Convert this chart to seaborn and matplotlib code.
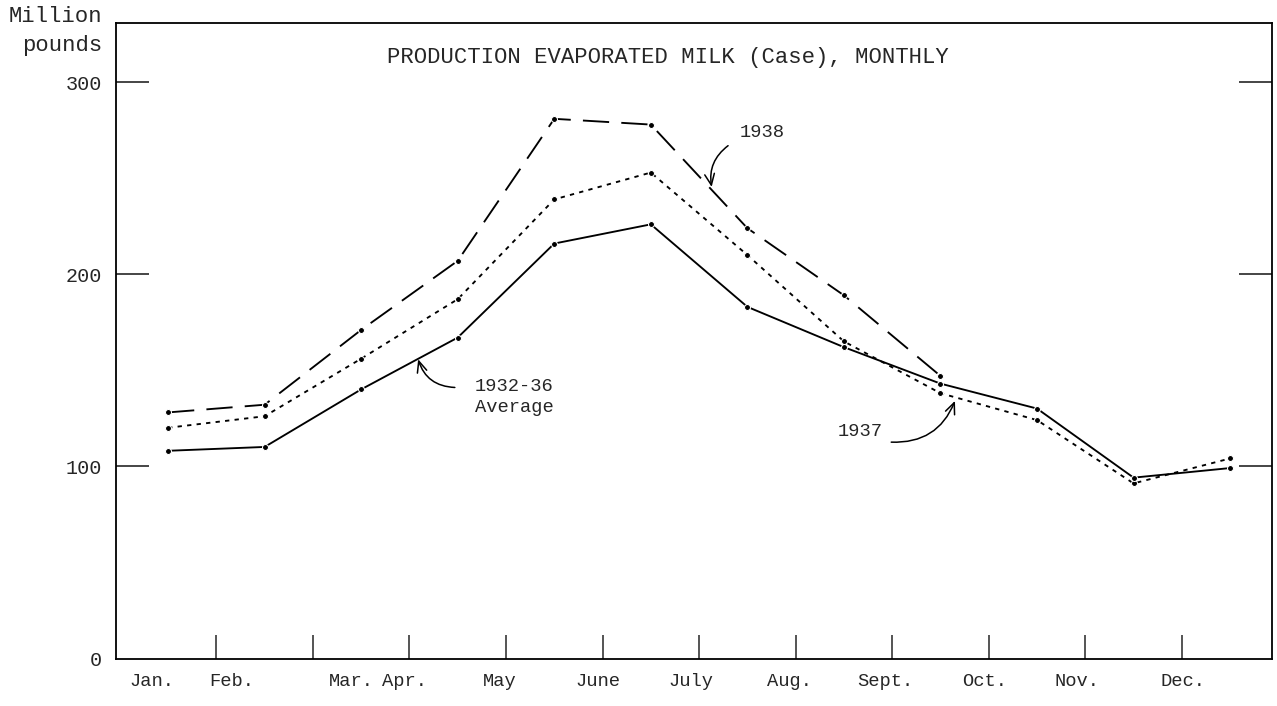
import pandas as pd
import seaborn as sns
import matplotlib.pyplot as plt

# ── data (million pounds) ─────────────────────────────────
months = ["Jan.", "Feb.", "Mar.", "Apr.", "May", "June",
          "July", "Aug.", "Sept.", "Oct.", "Nov.", "Dec."]
prod_1938 = [128, 132, 171, 207, 281, 278, 224, 189, 147]
prod_1937 = [120, 126, 156, 187, 239, 253, 210, 165, 138, 124, 91, 104]
avg_1932_36 = [108, 110, 140, 167, 216, 226, 183, 162, 143, 130, 94, 99]
y_ticks = [0, 100, 200, 300]

# typed month labels sit a little off the month centres
label_x = [-0.17, 0.66, 1.9, 2.45, 3.44, 4.45, 5.42, 6.44, 7.43, 8.46, 9.41, 10.51]

sns.set_style("ticks")
plt.rcParams["font.family"] = ["Liberation Mono", "DejaVu Sans Mono"]

fig = plt.figure(figsize=(12.77, 7.06), dpi=100)
ax = fig.add_axes([0.0908, 0.0666, 0.905, 0.901])

df_38 = pd.DataFrame({"m": range(len(prod_1938)), "v": prod_1938})
df_37 = pd.DataFrame({"m": range(len(prod_1937)), "v": prod_1937})
df_av = pd.DataFrame({"m": range(len(avg_1932_36)), "v": avg_1932_36})

common = dict(color="black", marker="o", markersize=4.3, lw=1.35, ax=ax)
sns.lineplot(data=df_38, x="m", y="v", linestyle=(0, (14, 6.5)), **common)
sns.lineplot(data=df_37, x="m", y="v", linestyle=(0, (2.3, 2.8)), **common)
sns.lineplot(data=df_av, x="m", y="v", linestyle="-", **common)

ax.set_xlim(-0.54, 11.43)
ax.set_ylim(-0.5, 331)
ax.set_xlabel("")
ax.set_ylabel("")

# y ticks on both sides, pointing in
ax.set_yticks(y_ticks)
ax.set_yticklabels([str(t) for t in y_ticks], fontsize=14.5)
ax.tick_params(axis="y", direction="in", length=24, width=1.2,
               right=True, pad=10)
zero_tick = ax.yaxis.get_major_ticks()[0]
zero_tick.tick1line.set_visible(False)
zero_tick.tick2line.set_visible(False)

# month boundaries as inward ticks, labels typed below
ax.set_xticks([i + 0.5 for i in range(11)])
ax.set_xticklabels([""] * 11)
ax.tick_params(axis="x", direction="in", length=17, width=1.1)
for x, lab in zip(label_x, months):
    ax.text(x, -8, lab, ha="center", va="top", fontsize=13.5,
            transform=ax.transData, clip_on=False)

for s in ax.spines.values():
    s.set_visible(True)
    s.set_linewidth(1.3)
    s.set_color("black")

ax.text(0.478, 0.946, "PRODUCTION EVAPORATED MILK (Case), MONTHLY",
        transform=ax.transAxes, ha="center", va="center", fontsize=16)
fig.text(102 / 1277, 1 - 31 / 706, "Million\npounds", ha="right",
         va="center", fontsize=16, linespacing=1.5)

arrow = dict(arrowstyle="->,head_length=0.8,head_width=0.35",
             color="black", lw=1.1, shrinkA=0, shrinkB=0)

ax.text(5.92, 274, "1938", ha="left", va="center", fontsize=13.5)
ax.annotate("", xy=(5.63, 245.5), xytext=(5.80, 267),
            arrowprops=dict(arrow, connectionstyle="arc3,rad=0.3"))

ax.text(3.18, 136, "1932-36\nAverage", ha="left", va="center",
        fontsize=13.5, linespacing=1.35)
ax.annotate("", xy=(2.59, 155.7), xytext=(2.97, 141),
            arrowprops=dict(arrow, connectionstyle="arc3,rad=-0.35"))

ax.text(7.40, 118, "1937", ha="right", va="center", fontsize=13.5)
ax.annotate("", xy=(8.15, 134), xytext=(7.49, 112.5),
            arrowprops=dict(arrow, connectionstyle="arc3,rad=0.35"))

plt.savefig("out.png", dpi=100)
